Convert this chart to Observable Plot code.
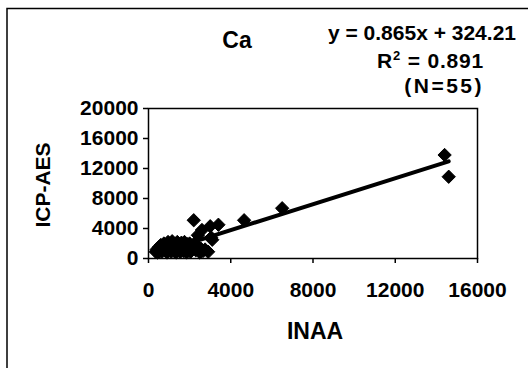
<!DOCTYPE html>
<html>
<head>
<meta charset="utf-8">
<script src="https://cdn.jsdelivr.net/npm/d3@7"></script>
<script src="https://cdn.jsdelivr.net/npm/@observablehq/plot@0.6"></script>
<style>
  html, body { margin: 0; padding: 0; background: #fff; }
  #chart { width: 528px; height: 368px; overflow: hidden; }
  svg text { font-family: "Liberation Sans", Arial, sans-serif; }
</style>
</head>
<body>
<div id="chart"></div>
<script>
// INAA (x) values
const inaa = [
  14400, 14600, 6500, 4650, 2200, 3400, 3000, 2600, 2400, 3050, 3100,
  350, 400, 450, 500, 550, 600, 650, 700, 750, 800,
  850, 900, 950, 1000, 1050, 1100, 1150, 1200, 1250, 1300,
  1350, 1400, 1450, 1500, 1550, 1600, 1650, 1700, 1750, 1800,
  1850, 1900, 1950, 2000, 2050, 2100, 2200, 2300, 2400, 2500,
  2550, 2650, 2750, 2900
];
// ICP-AES (y) values
const icp = [
  13800, 10900, 6700, 5100, 5100, 4500, 4300, 3800, 3100, 2800, 2500,
  900, 1200, 800, 1500, 1000, 1800, 900, 1300, 2000, 1100,
  1600, 800, 2200, 1300, 1800, 900, 2300, 1500, 1000, 1900,
  800, 2200, 1300, 1700, 900, 2100, 1400, 1000, 2200, 1600,
  800, 1900, 1200, 2000, 900, 1500, 1900, 1100, 1600, 800,
  1300, 1000, 1200, 900
];
const xTicks = [0, 4000, 8000, 12000, 16000];
const yTicks = [0, 4000, 8000, 12000, 16000, 20000];
const slope = 0.865;
const intercept = 324.21;
const titleText = "Ca";
const eqText = "y = 0.865x + 324.21";
const r2Value = "0.891";
const nText = "(N=55)";
const xLabel = "INAA";
const yLabel = "ICP-AES";

const points = inaa.map((x, i) => ({x, y: icp[i]}));
const xMin = d3.min(inaa), xMax = d3.max(inaa);
const fit = [xMin, xMax].map(x => ({x, y: slope * x + intercept}));

const plot = Plot.plot({
  width: 528,
  height: 368,
  marginLeft: 148,
  marginRight: 51,
  marginTop: 108,
  marginBottom: 110,
  style: {fontFamily: "'Liberation Sans', Arial, sans-serif", background: "#fff", color: "#000"},
  x: {domain: [0, 16000], label: null},
  y: {domain: [0, 20000], label: null},
  marks: [
    Plot.frame({stroke: "#000", strokeWidth: 1.5}),
    Plot.line(fit, {x: "x", y: "y", stroke: "#000", strokeWidth: 4}),
    Plot.dot(points, {x: "x", y: "y", symbol: "diamond2", r: 6, fill: "#000", stroke: "#000", strokeWidth: 1}),
    Plot.axisX({ticks: xTicks, tickSize: 5, tickPadding: 19, fontSize: 21, fontWeight: "bold", tickFormat: d => String(d), strokeWidth: 1.5, label: null}),
    Plot.axisY({ticks: yTicks, tickSize: 5, tickPadding: 5, fontSize: 21, fontWeight: "bold", tickFormat: d => String(d), strokeWidth: 1.5, label: null})
  ]
});

const svg = d3.select(plot);
// outer border (top and left edges visible)
svg.append("path")
  .attr("d", "M7,368 L7,8.5 L528,8.5")
  .attr("fill", "none").attr("stroke", "#000").attr("stroke-width", 1.5);

svg.append("text").text(titleText)
  .attr("x", 237).attr("y", 48).attr("text-anchor", "middle")
  .attr("font-size", 23).attr("font-weight", "bold");

svg.append("text").text(eqText)
  .attr("x", 516).attr("y", 40).attr("text-anchor", "end")
  .attr("font-size", 21).attr("font-weight", "bold");

const r2 = svg.append("text")
  .attr("x", 484).attr("y", 68).attr("text-anchor", "end")
  .attr("font-size", 21).attr("font-weight", "bold").attr("letter-spacing", 0.8);
r2.append("tspan").text("R");
r2.append("tspan").text("2").attr("font-size", 13).attr("dy", -8);
r2.append("tspan").text(" = " + r2Value).attr("dy", 8);

svg.append("text").text(nText)
  .attr("x", 484).attr("y", 93).attr("text-anchor", "end")
  .attr("font-size", 21).attr("font-weight", "bold").attr("letter-spacing", 2.5);

svg.append("text").text(xLabel)
  .attr("x", 315).attr("y", 339).attr("text-anchor", "middle")
  .attr("font-size", 23).attr("font-weight", "bold");

svg.append("text").text(yLabel)
  .attr("transform", "translate(50,185) rotate(-90)")
  .attr("text-anchor", "middle")
  .attr("font-size", 21).attr("font-weight", "bold");

document.getElementById("chart").appendChild(plot);
</script>
</body>
</html>
